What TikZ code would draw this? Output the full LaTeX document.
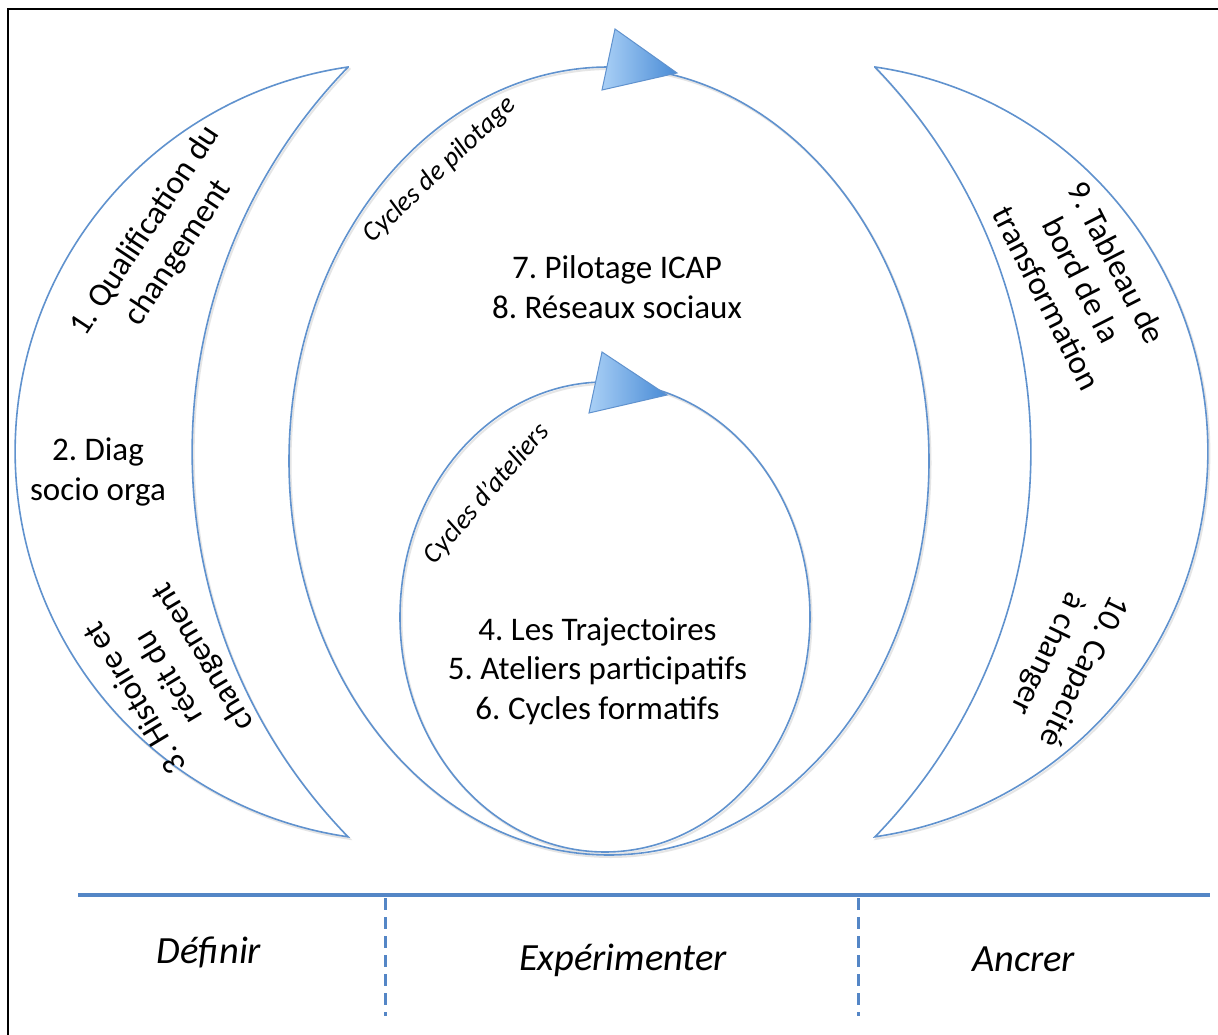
\documentclass[tikz,border=0pt]{standalone}
\usepackage{fontspec}
\setmainfont{Carlito}
\definecolor{linec}{RGB}{96,146,206}
\definecolor{axisc}{RGB}{84,134,198}
\definecolor{arrL}{RGB}{170,208,246}
\definecolor{arrR}{RGB}{74,140,214}
\definecolor{shadowc}{RGB}{205,205,205}
\begin{document}
\frenchspacing
\begin{tikzpicture}[x=1pt,y=1pt,
  outl/.style={draw=linec, line width=1.6pt},
  shd/.style={draw=shadowc, line width=2pt, opacity=0.5},
  lbl/.style={font=\fontsize{33}{39.5}\selectfont, align=center, inner sep=0pt},
  cyc/.style={font=\fontsize{27.5}{32}\selectfont\itshape, inner sep=0pt},
  phase/.style={font=\fontsize{38.5}{44}\selectfont\itshape, inner sep=0pt, anchor=base},
  arrowtri/.style={draw=linec, line width=1pt, left color=arrL, right color=arrR},
  axis/.style={draw=axisc, line width=4.5pt},
  vsep/.style={draw=axisc, line width=3pt, dash pattern=on 12pt off 7pt}]
\useasboundingbox (0,0) rectangle (1218,-1035);
\fill[white] (0,0) rectangle (1218,-1035);
% frame
\draw[black, line width=1.8pt] (8,-1045) -- (8,-9) -- (1230,-9);

% soft shadows
\begin{scope}[shift={(1.5,-2)}]
\draw[shd] (348,-67) arc[start angle=98.3, end angle=261.7, radius=389]
  arc[start angle=224.1, end angle=135.9, radius=553] -- cycle;
\draw[shd] (875,-67) arc[start angle=81.7, end angle=-81.7, radius=389]
  arc[start angle=-44.1, end angle=44.1, radius=553] -- cycle;
\draw[shd] (609,-461) ellipse [x radius=320, y radius=394];
\draw[shd] (605,-617) ellipse [x radius=205, y radius=235];
\end{scope}
% left crescent
\draw[outl, fill=white] (348,-67) arc[start angle=98.3, end angle=261.7, radius=389]
  arc[start angle=224.1, end angle=135.9, radius=553] -- cycle;
% right crescent
\draw[outl, fill=white] (875,-67) arc[start angle=81.7, end angle=-81.7, radius=389]
  arc[start angle=-44.1, end angle=44.1, radius=553] -- cycle;
% big and small cycles
\draw[outl] (609,-461) ellipse [x radius=320, y radius=394];
\draw[outl] (605,-617) ellipse [x radius=205, y radius=235];
% arrow heads
\path[arrowtri] (615,-29) -- (677,-73) -- (602,-90) -- cycle;
\path[arrowtri] (602,-352) -- (667,-395) -- (589,-413) -- cycle;

% texts
\node[lbl, rotate=56.5] (t1) at (162,-242) {1. Qualification du\\changement};
\node[lbl] (t2) at (98,-472) {2. Diag\\socio orga};
\node[lbl, rotate=121] (t3) at (170,-677) {3. Histoire et\\récit du\\changement};
\node[lbl] (t78) at (617,-287) {7. Pilotage ICAP\\8. Réseaux sociaux};
\node[lbl] (t456) at (597.5,-671) {4. Les Trajectoires\\5. Ateliers participatifs\\6. Cycles formatifs};
\node[lbl, rotate=-63] (t9) at (1082,-280) {9. Tableau de\\bord de la\\transformation};
\node[lbl, rotate=-116] (t10) at (1065,-662) {10. Capacité\\à changer};
\node[cyc, rotate=43.5] (cp) at (440,-170) {Cycles de pilotage};
\node[cyc, rotate=49] (ca) at (487,-494) {Cycles d’ateliers};

% phase axis
\coordinate (axL) at (78,-895);
\coordinate (axR) at (1210,-895);
\draw[axis] (axL) -- (axR);
\coordinate (d1t) at (385,-898);
\coordinate (d1b) at (385,-1016);
\coordinate (d2t) at (858,-898);
\coordinate (d2b) at (858,-1016);
\draw[vsep] (d1t) -- (d1b);
\draw[vsep] (d2t) -- (d2b);
\node[phase] (p1) at (209,-963) {Définir};
\node[phase] (p2) at (623,-970) {Expérimenter};
\node[phase] (p3) at (1023.5,-971) {Ancrer};
\end{tikzpicture}
\end{document}
